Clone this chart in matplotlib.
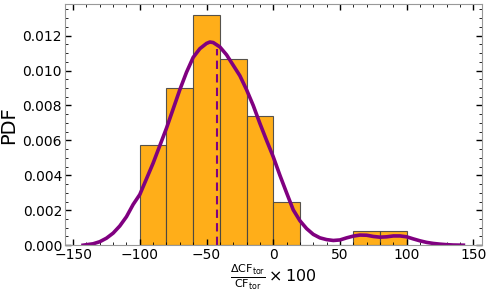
import numpy as np
import matplotlib
matplotlib.use("Agg")
import matplotlib.pyplot as plt
from matplotlib.ticker import AutoMinorLocator

# histogram (density)
bin_left = [-100, -80, -60, -40, -20, 0, 20, 40, 60, 80]
bin_width = 20
pdf_vals = [0.00574, 0.00902, 0.01315, 0.01066, 0.00738, 0.00246, 0.0, 0.0, 0.00082, 0.00082]

# kde curve
kde_x = [-142.5, -135, -130, -125, -120, -115, -110, -105, -100, -95, -90, -85, -80,
         -75, -70, -65, -60, -55, -50, -47.5, -45, -40, -35, -30, -25, -20, -15,
         -10, -5, 0, 5, 10, 15, 20, 25, 30, 35, 40, 45, 50, 55, 60, 65, 70, 75,
         80, 85, 90, 95, 100, 105, 110, 115, 120, 125, 130, 135, 142.5]
kde_y = [0.0, 0.00008, 0.0002, 0.0004, 0.00069, 0.0011, 0.00163, 0.00233, 0.0029, 0.0038,
         0.0047, 0.0057, 0.0067, 0.0078, 0.0089, 0.0099, 0.01075, 0.01125, 0.01155, 0.01163,
         0.0116, 0.01135, 0.0109, 0.0103, 0.0097, 0.0089, 0.0080, 0.00697, 0.0060, 0.00506,
         0.0040, 0.0030, 0.00202, 0.0014, 0.00095, 0.00062, 0.00042, 0.00032, 0.00027, 0.0003,
         0.00042, 0.00052, 0.00058, 0.00057, 0.0005, 0.00046, 0.00048, 0.00053, 0.00053, 0.00048,
         0.00036, 0.00025, 0.00016, 0.0001, 0.00006, 0.00003, 0.00001, 0.0]

mean_x = -42.4
mean_y = 0.01125

fig, ax = plt.subplots(figsize=(4.91, 2.94), dpi=100)
fig.subplots_adjust(left=0.132, right=0.981, top=0.986, bottom=0.166)

ax.bar(bin_left, pdf_vals, width=bin_width, align='edge', color='orange', alpha=0.9,
       edgecolor='#444444', linewidth=0.8)
ax.plot(kde_x, kde_y, color='purple', lw=2.6)
ax.vlines(mean_x, 0, mean_y, color='purple', lw=1.5, linestyles=(0, (4, 2.5)))

ax.set_xlim(-156.2, 156.2)
ax.set_ylim(0, 0.0138)
ax.set_xticks([-150, -100, -50, 0, 50, 100, 150])
ax.set_yticks([0, 0.002, 0.004, 0.006, 0.008, 0.010, 0.012])
ax.set_yticklabels(['0.000', '0.002', '0.004', '0.006', '0.008', '0.010', '0.012'])
ax.xaxis.set_minor_locator(AutoMinorLocator(5))
ax.yaxis.set_minor_locator(AutoMinorLocator(4))
ax.tick_params(which='both', direction='in', top=True, right=True, labelsize=10, pad=2)
ax.tick_params(which='major', length=4, width=1)
ax.tick_params(which='minor', length=2, width=0.6)
for s in ax.spines.values():
    s.set_color('#999999')

ax.set_ylabel('PDF', fontsize=14, labelpad=3)
ax.set_xlabel(r'$\frac{\Delta \mathrm{CF_{tor}}}{\mathrm{CF_{tor}}} \times 100$', fontsize=11.5, labelpad=0)

fig.savefig('out.png', dpi=100)
